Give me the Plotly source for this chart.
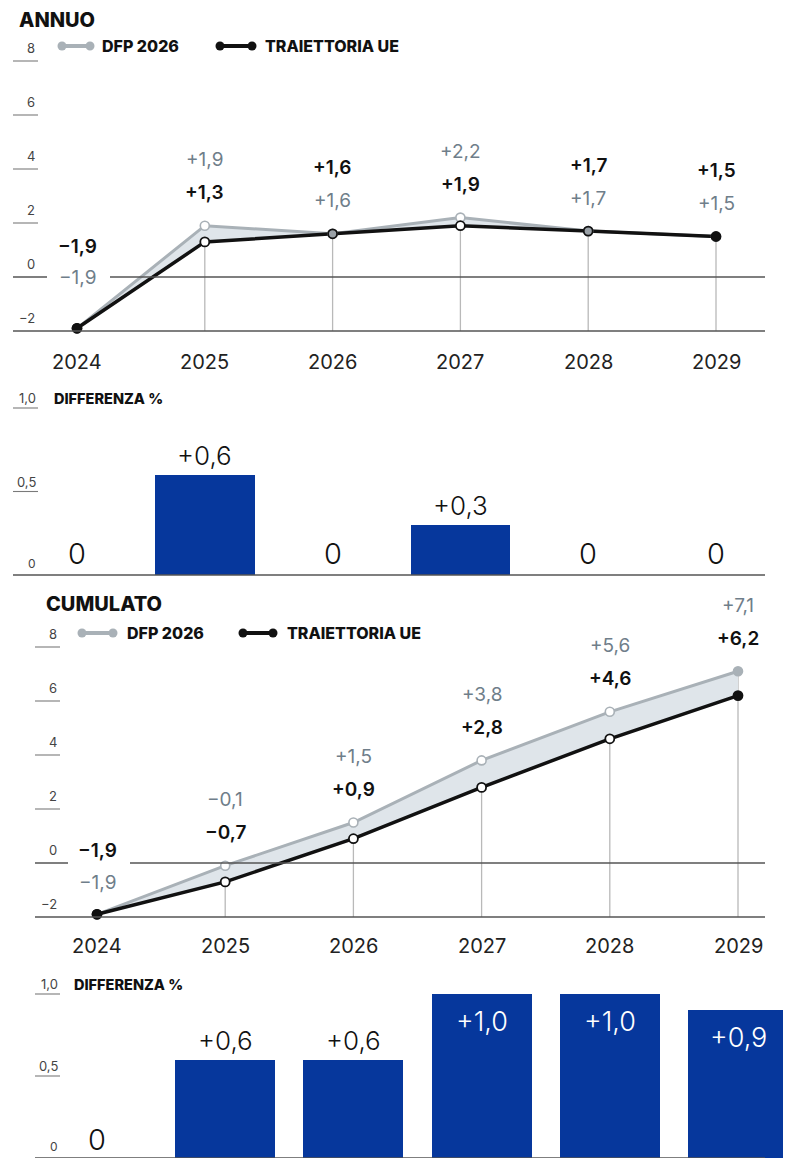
import plotly.graph_objects as go

# page is placed with an 8px body margin: work in reference pixels and compensate
REF_W, REF_H = 791, 1158
OX, OY = 8, 8
W, H = REF_W - OX, REF_H - OY

# ---------------- data ----------------
years = [2024, 2025, 2026, 2027, 2028, 2029]
annuo_dfp = [-1.9, 1.9, 1.6, 2.2, 1.7, 1.5]
annuo_ue = [-1.9, 1.3, 1.6, 1.9, 1.7, 1.5]
annuo_diff = [0, 0.6, 0, 0.3, 0, 0]
cum_dfp = [-1.9, -0.1, 1.5, 3.8, 5.6, 7.1]
cum_ue = [-1.9, -0.7, 0.9, 2.8, 4.6, 6.2]
cum_diff = [0, 0.6, 0.6, 1.0, 1.0, 0.9]
line_ticks = [8, 6, 4, 2, 0, -2]
bar_ticks = [1.0, 0.5, 0]
series_names = ["DFP 2026", "TRAIETTORIA UE"]
panel_titles = ["ANNUO", "CUMULATO"]
bar_title = "DIFFERENZA %"

# ---------------- style ----------------
FONT = "Inter, Roboto, sans-serif"
C_DFP_LINE = "#a9b1b7"
C_DFP_TEXT = "#6f7e8a"
C_UE = "#111111"
C_FILL = "#dfe5ea"
C_BAR = "#06379c"
C_VLINE = "#b9b9b9"
C_AXIS = "#555555"
C_TICK = "#444444"


def fmt(v):
    if v == 0:
        return "0"
    s = f"{abs(v):.1f}".replace(".", ",")
    return ("+" if v > 0 else "\u2212") + s


def fmt_tick(v, dec):
    if v == 0:
        return "0"
    if dec:
        s = f"{abs(v):.1f}".replace(".", ",")
    else:
        s = f"{abs(v):.0f}"
    return ("\u2212" if v < 0 else "") + s


def px_x(p):
    return (p - OX) / W


def px_y(p):
    return 1 - (p - OY) / H


def xrange_(ppy, px0):
    return [years[0] + (OX - px0) / ppy, years[0] + (REF_W - px0) / ppy]


def yaxis_(top, bot, v0, ppu):
    return dict(domain=[1 - (bot - OY) / H, 1 - (top - OY) / H],
                range=[(v0 - bot) / ppu, (v0 - top) / ppu],
                visible=False, fixedrange=True)


fig = go.Figure()
shapes = []
annotations = []

line_panels = [
    dict(xa="x", ya="y", ppy=127.8, px0=77, top=30, bot=345, v0=277, ppu=27,
         dfp=annuo_dfp, ue=annuo_ue, title=panel_titles[0], title_xy=(17, 20),
         leg_y=46, leg=(62, 90, 100, 220, 252, 263), tick_x=(13, 38),
         gap=(47, 110), first_shift=(31, 0), year_shift=-31,
         dfp_fill=["#111111", "white", "#9aa1a7", "white", "#9aa1a7", "#111111"],
         ue_fill=["#111111", "white", "#9aa1a7", "white", "#9aa1a7", "#111111"]),
    dict(xa="x3", ya="y3", ppy=128.2, px0=97, top=600, bot=930, v0=863, ppu=27,
         dfp=cum_dfp, ue=cum_ue, title=panel_titles[1], title_xy=(44, 604),
         leg_y=633, leg=(82, 113, 125, 243, 273, 285), tick_x=(35, 60),
         gap=(68, 130), first_shift=(13, -19), year_shift=-29,
         dfp_fill=["#111111", "white", "white", "white", "white", "#a9b1b7"],
         ue_fill=["#111111", "white", "white", "white", "white", "#111111"]),
]

bar_panels = [
    dict(xa="x2", ya="y2", ppy=127.8, px0=77, top=388, bot=580, v0=575, ppu=167,
         vals=annuo_diff, tick_x=(13, 38), title_x=52, zero_shift=22, inside_min=9),
    dict(xa="x4", ya="y4", ppy=128.2, px0=97, top=975, bot=1158, v0=1158, ppu=164,
         vals=cum_diff, tick_x=(35, 60), title_x=72, zero_shift=19, inside_min=0.9),
]

layout_axes = {}

for k, P in enumerate(line_panels):
    xa, ya = P["xa"], P["ya"]
    xn = "xaxis" + xa[1:]
    yn = "yaxis" + ya[1:]
    layout_axes[xn] = dict(range=xrange_(P["ppy"], P["px0"]), visible=False,
                           fixedrange=True, anchor=ya)
    layout_axes[yn] = yaxis_(P["top"], P["bot"], P["v0"], P["ppu"])
    layout_axes[yn]["anchor"] = xa
    dfp, ue = P["dfp"], P["ue"]
    base = min(line_ticks)

    vx, vy = [], []
    for i in range(1, len(years)):
        vx += [years[i], years[i], None]
        vy += [base, max(dfp[i], ue[i]), None]
    fig.add_trace(go.Scatter(x=vx, y=vy, mode="lines", xaxis=xa, yaxis=ya,
                             line=dict(color=C_VLINE, width=1.3),
                             hoverinfo="skip", showlegend=False))
    fig.add_trace(go.Scatter(x=years, y=ue, mode="lines", xaxis=xa, yaxis=ya,
                             line=dict(width=0, color=C_UE), hoverinfo="skip",
                             showlegend=False))
    fig.add_trace(go.Scatter(x=years, y=dfp, mode="lines", xaxis=xa, yaxis=ya,
                             fill="tonexty", fillcolor=C_FILL,
                             line=dict(color=C_DFP_LINE, width=3),
                             name=series_names[0], showlegend=False))
    fig.add_trace(go.Scatter(x=years, y=ue, mode="lines", xaxis=xa, yaxis=ya,
                             line=dict(color=C_UE, width=3.5),
                             name=series_names[1], showlegend=False))
    fig.add_trace(go.Scatter(x=years, y=dfp, mode="markers", xaxis=xa, yaxis=ya,
                             marker=dict(size=9, color=P["dfp_fill"],
                                         line=dict(color=[C_UE] + [C_DFP_LINE] * 5, width=1.6)),
                             hoverinfo="skip", showlegend=False, cliponaxis=False))
    fig.add_trace(go.Scatter(x=years, y=ue, mode="markers", xaxis=xa, yaxis=ya,
                             marker=dict(size=9, color=P["ue_fill"],
                                         line=dict(color=C_UE, width=1.8)),
                             hoverinfo="skip", showlegend=False, cliponaxis=False))

    t0, t1 = P["tick_x"]
    for t in line_ticks:
        if t == 0:
            shapes.append(dict(type="line", xref="paper", yref=ya, x0=px_x(t0), x1=px_x(P["gap"][0]),
                               y0=t, y1=t, line=dict(color=C_AXIS, width=1.3)))
            shapes.append(dict(type="line", xref="paper", yref=ya, x0=px_x(P["gap"][1]), x1=px_x(765),
                               y0=t, y1=t, line=dict(color=C_AXIS, width=1.3)))
        elif t == base:
            shapes.append(dict(type="line", xref="paper", yref=ya, x0=px_x(t0), x1=px_x(765),
                               y0=t, y1=t, line=dict(color=C_AXIS, width=1.3)))
        else:
            shapes.append(dict(type="line", xref="paper", yref=ya, x0=px_x(t0), x1=px_x(t1),
                               y0=t, y1=t, line=dict(color="#7a7a7a", width=1.1)))
        annotations.append(dict(xref="paper", yref=ya, x=px_x(t1 - 1), y=t, yshift=13,
                                text=fmt_tick(t, False), showarrow=False, xanchor="right",
                                font=dict(family=FONT, size=13, color=C_TICK)))

    for i, yr in enumerate(years):
        if i == 0:
            annotations.append(dict(xref=xa, yref=ya, x=yr, y=0, yshift=P["first_shift"][0],
                                    text=fmt(ue[i]), showarrow=False,
                                    font=dict(family=FONT, size=19, color=C_UE, weight=600)))
            annotations.append(dict(xref=xa, yref=ya, x=yr, y=0, yshift=P["first_shift"][1],
                                    text=fmt(dfp[i]), showarrow=False,
                                    font=dict(family=FONT, size=19, color=C_DFP_TEXT)))
            continue
        top = max(dfp[i], ue[i])
        if dfp[i] > ue[i]:
            order = [(dfp[i], C_DFP_TEXT, 400), (ue[i], C_UE, 600)]
        else:
            order = [(ue[i], C_UE, 600), (dfp[i], C_DFP_TEXT, 400)]
        for (v, c, wgt), sh in zip(order, [66, 33]):
            annotations.append(dict(xref=xa, yref=ya, x=yr, y=top, yshift=sh,
                                    text=fmt(v), showarrow=False,
                                    font=dict(family=FONT, size=19, color=c, weight=wgt)))
    for yr in years:
        annotations.append(dict(xref=xa, yref=ya, x=yr, y=base, yshift=P["year_shift"],
                                text=str(yr), showarrow=False,
                                font=dict(family=FONT, size=20, color="#222222")))

    tx, ty = P["title_xy"]
    annotations.append(dict(xref="paper", yref="paper", x=px_x(tx), y=px_y(ty),
                            text=P["title"], showarrow=False, xanchor="left", yanchor="middle",
                            font=dict(family=FONT, size=20, color="#111111", weight=800)))
    ly = P["leg_y"]
    g0, g1, gt, b0, b1, bt = P["leg"]
    for (a0, a1, tx_, col, name) in [(g0, g1, gt, C_DFP_LINE, series_names[0]),
                                     (b0, b1, bt, C_UE, series_names[1])]:
        shapes.append(dict(type="line", xref="paper", yref="paper", x0=px_x(a0), x1=px_x(a1),
                           y0=px_y(ly), y1=px_y(ly), line=dict(color=col, width=4)))
        for cx in (a0, a1):
            r = 4.5
            shapes.append(dict(type="circle", xref="paper", yref="paper",
                               x0=px_x(cx - r), x1=px_x(cx + r), y0=px_y(ly + r), y1=px_y(ly - r),
                               fillcolor=col, line=dict(color=col, width=0)))
        annotations.append(dict(xref="paper", yref="paper", x=px_x(tx_), y=px_y(ly),
                                text=name, showarrow=False, xanchor="left", yanchor="middle",
                                font=dict(family=FONT, size=16, color="#111111", weight=800)))

for P in bar_panels:
    xa, ya = P["xa"], P["ya"]
    xn = "xaxis" + xa[1:]
    yn = "yaxis" + ya[1:]
    layout_axes[xn] = dict(range=xrange_(P["ppy"], P["px0"]), visible=False,
                           fixedrange=True, anchor=ya)
    layout_axes[yn] = yaxis_(P["top"], P["bot"], P["v0"], P["ppu"])
    layout_axes[yn]["anchor"] = xa
    vals = P["vals"]
    fig.add_trace(go.Bar(x=years, y=vals, xaxis=xa, yaxis=ya, width=0.78,
                         marker=dict(color=C_BAR, line=dict(width=0)),
                         hoverinfo="skip", showlegend=False))
    t0, t1 = P["tick_x"]
    shapes.append(dict(type="line", xref="paper", yref=ya, x0=px_x(t0), x1=px_x(765),
                       y0=0, y1=0, line=dict(color=C_AXIS, width=1.5)))
    for t in bar_ticks:
        if t != 0:
            shapes.append(dict(type="line", xref="paper", yref=ya, x0=px_x(t0), x1=px_x(t1),
                               y0=t, y1=t, line=dict(color="#7a7a7a", width=1.1)))
        annotations.append(dict(xref="paper", yref=ya, x=px_x(t1), y=t,
                                yshift=10 if t != 0 else 12,
                                text=fmt_tick(t, True), showarrow=False, xanchor="right",
                                font=dict(family=FONT, size=13 if t != 0 else 12, color=C_TICK)))
    annotations.append(dict(xref="paper", yref=ya, x=px_x(P["title_x"]), y=bar_ticks[0],
                            yshift=10, text=bar_title, showarrow=False, xanchor="left",
                            font=dict(family=FONT, size=14.5, color="#111111", weight=800)))
    for yr, v in zip(years, vals):
        if v == 0:
            annotations.append(dict(xref=xa, yref=ya, x=yr, y=0, yshift=P["zero_shift"],
                                    text=fmt(v), showarrow=False,
                                    font=dict(family=FONT, size=29, color="#111111", weight=300)))
        elif v >= P["inside_min"]:
            annotations.append(dict(xref=xa, yref=ya, x=yr, y=v, yshift=-27,
                                    text=fmt(v), showarrow=False,
                                    font=dict(family=FONT, size=27, color="white", weight=300)))
        else:
            annotations.append(dict(xref=xa, yref=ya, x=yr, y=v, yshift=19,
                                    text=fmt(v), showarrow=False,
                                    font=dict(family=FONT, size=26, color="#111111", weight=300)))

fig.update_layout(
    width=W, height=H,
    margin=dict(l=0, r=0, t=0, b=0),
    paper_bgcolor="white", plot_bgcolor="rgba(0,0,0,0)",
    showlegend=False,
    shapes=shapes, annotations=annotations,
    font=dict(family=FONT),
    bargap=0,
    **layout_axes,
)

fig.write_html("out.html")
